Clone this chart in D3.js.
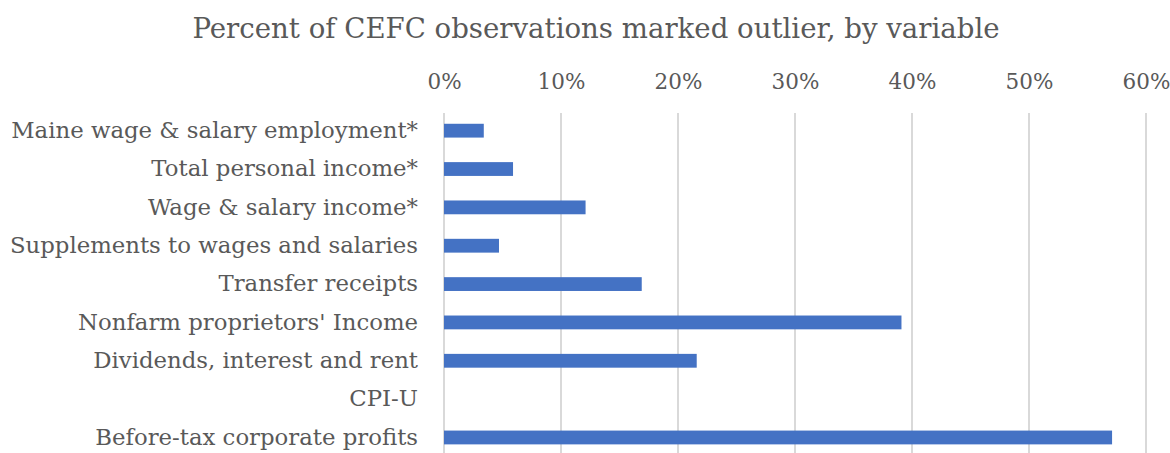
<!DOCTYPE html>
<html>
<head>
<meta charset="utf-8">
<script src="https://cdn.jsdelivr.net/npm/d3@7"></script>
<style>
  html, body { margin: 0; padding: 0; background: #ffffff; }
  svg { display: block; }
  text { font-family: "DejaVu Serif", Georgia, serif; fill: #595959; }
</style>
</head>
<body>
<svg id="chart" width="1170" height="453"></svg>
<script>
// Share of CEFC observations flagged as outliers, per variable (percent)
const categories = [
  "Maine wage & salary employment*",
  "Total personal income*",
  "Wage & salary income*",
  "Supplements to wages and salaries",
  "Transfer receipts",
  "Nonfarm proprietors' Income",
  "Dividends, interest and rent",
  "CPI-U",
  "Before-tax corporate profits"
];
const values = [3.4, 5.9, 12.1, 4.7, 16.9, 39.1, 21.6, 0, 57.1];
const tickValues = [0, 10, 20, 30, 40, 50, 60];
const title = "Percent of CEFC observations marked outlier, by variable";

const W = 1170, H = 453;
const margin = { top: 111.5, left: 444, right: 24 };
const svg = d3.select("#chart");

const x = d3.scaleLinear().domain([0, 60]).range([margin.left, W - margin.right]);
const y = d3.scaleBand().domain(categories)
  .range([margin.top, margin.top + 38.35 * categories.length])
  .paddingInner(0.64).paddingOuter(0.32);

// title
svg.append("text")
  .attr("x", 596).attr("y", 38)
  .attr("text-anchor", "middle")
  .style("font-size", "27.6px")
  .text(title);

// vertical gridlines
svg.append("g").selectAll("line").data(tickValues).join("line")
  .attr("x1", d => x(d)).attr("x2", d => x(d))
  .attr("y1", 113).attr("y2", H)
  .attr("stroke", "#d9d9d9").attr("stroke-width", 2);

// top axis labels
const xAxis = d3.axisTop(x).tickValues(tickValues)
  .tickFormat(d => d + "%").tickSize(0).tickPadding(0);
const gx = svg.append("g").attr("transform", "translate(0,89)").call(xAxis);
gx.select(".domain").remove();
gx.selectAll("text").style("font-size", "21.5px").attr("fill", "#595959")
  .style("font-family", '"DejaVu Serif", Georgia, serif');

// bars
svg.append("g").selectAll("rect").data(values).join("rect")
  .attr("x", x(0))
  .attr("y", (d, i) => y(categories[i]))
  .attr("width", d => x(d) - x(0))
  .attr("height", y.bandwidth())
  .attr("fill", "#4472c4");

// category labels
const yAxis = d3.axisLeft(y).tickSize(0).tickPadding(26);
const gy = svg.append("g").attr("transform", `translate(${x(0)},0)`).call(yAxis);
gy.select(".domain").remove();
gy.selectAll("text").style("font-size", "22.8px").attr("fill", "#505050")
  .style("font-family", '"DejaVu Serif", Georgia, serif');
</script>
</body>
</html>
